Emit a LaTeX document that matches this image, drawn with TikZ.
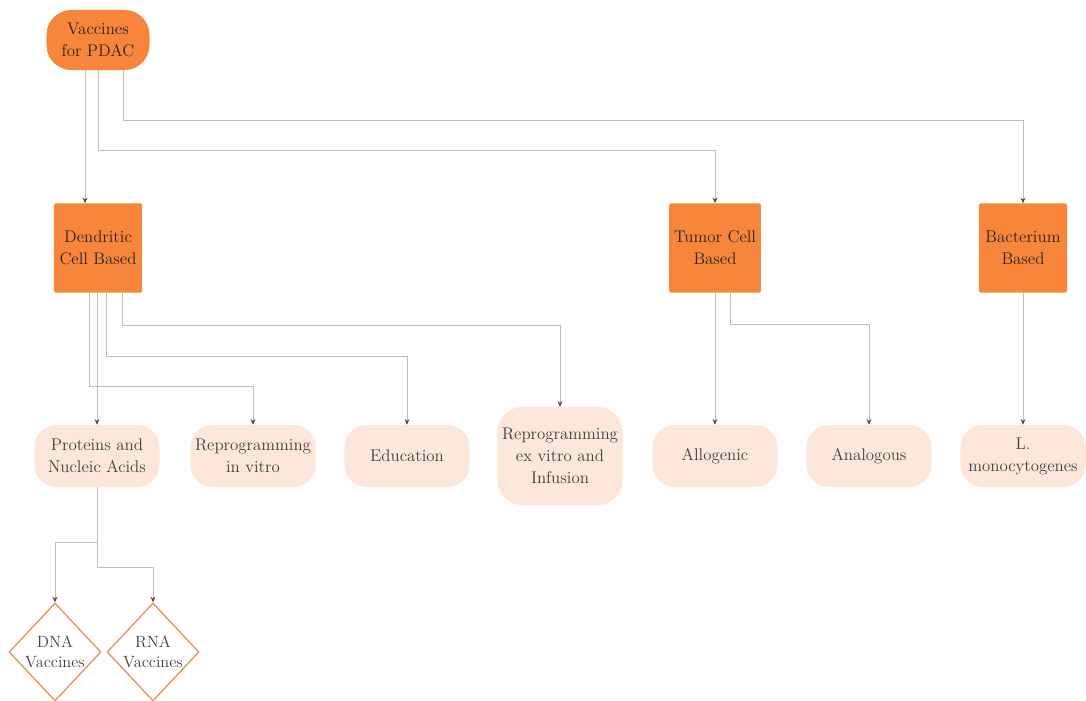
\documentclass[tikz,border=0pt]{standalone}
\usepackage{xcolor}
\usepackage{tikz}
\usetikzlibrary{arrows.meta,calc,shapes.geometric}

\definecolor{vacorange}{HTML}{F7863A}
\definecolor{leafpeach}{HTML}{FCE7DA}
\definecolor{diaedge}{HTML}{EE8A58}
\definecolor{linkgray}{HTML}{BEBEBE}

\begin{document}
\begin{tikzpicture}[x=0.025cm, y=-0.025cm,
    every node/.style={font=\fontsize{12}{15.6}\selectfont, align=center},
    top/.style={fill=vacorange, rounded corners=0.62cm, minimum width=2.575cm, minimum height=1.5cm, text=black!85},
    cat/.style={fill=vacorange, rounded corners=1pt, minimum width=2.2cm, minimum height=2.225cm, text=black!85},
    leaf/.style={fill=leafpeach, rounded corners=0.55cm, minimum width=3.125cm, minimum height=1.55cm, text=black!75},
    dia/.style={diamond, draw=diaedge, line width=0.9pt, fill=white, inner sep=0pt,
      minimum width=2.25cm, minimum height=2.45cm, font=\fontsize{11.6}{14.5}\selectfont, text=black!75},
    link/.style={draw=linkgray, line width=0.6pt, -{Stealth[length=4pt,width=3.5pt,color=black!70]}}]
  \useasboundingbox (0,0) rectangle (1086,700);

  % root and the three kinds
  \node[top] (root) at (98,40) {Vaccines\\for PDAC};
  \node[cat] (dc) at (98,248) {Dendritic\\Cell Based};
  \node[cat] (tc) at (715,248) {Tumor Cell\\Based};
  \node[cat] (bb) at (1023,248) {Bacterium\\Based};

  % leaves
  \node[leaf] (pna) at (97,456) {Proteins and\\Nucleic Acids};
  \node[leaf] (riv) at (253,456) {Reprogramming\\in vitro};
  \node[leaf] (edu) at (407,456) {Education};
  \node[leaf, minimum height=2.45cm, rounded corners=0.62cm] (rev) at (560,456) {Reprogramming\\ex vitro and\\Infusion};
  \node[leaf] (allo) at (715,456) {Allogenic};
  \node[leaf] (ana) at (869,456) {Analogous};
  \node[leaf] (lmo) at (1023,456) {L.\\monocytogenes};

  \node[dia] (dna) at (55,652) {DNA\\Vaccines};
  \node[dia] (rna) at (153,652) {RNA\\Vaccines};

  % connectors
  \draw[link] ($(root.south)+(-13,0)$) -- ($(dc.north)+(-13,0)$);
  \draw[link] (root.south) -- ++(0,80) -| (tc.north);
  \draw[link] ($(root.south)+(25,0)$) -- ++(0,50) -| (bb.north);

  \draw[link] (dc.south -| pna.north) -- (pna.north);
  \draw[link] ($(dc.south)+(-9,0)$) -- ++(0,94) -| (riv.north);
  \draw[link] ($(dc.south)+(8,0)$) -- ++(0,64) -| (edu.north);
  \draw[link] ($(dc.south)+(24,0)$) -- ++(0,33) -| (rev.north);

  \draw[link] (tc.south) -- (allo.north);
  \draw[link] ($(tc.south)+(15,0)$) -- ++(0,32) -| (ana.north);
  \draw[link] (bb.south) -- (lmo.north);

  \draw[link] (pna.south) -- ++(0,55) -| (dna.north);
  \draw[link] (pna.south) -- ++(0,80) -| (rna.north);
\end{tikzpicture}
\end{document}
